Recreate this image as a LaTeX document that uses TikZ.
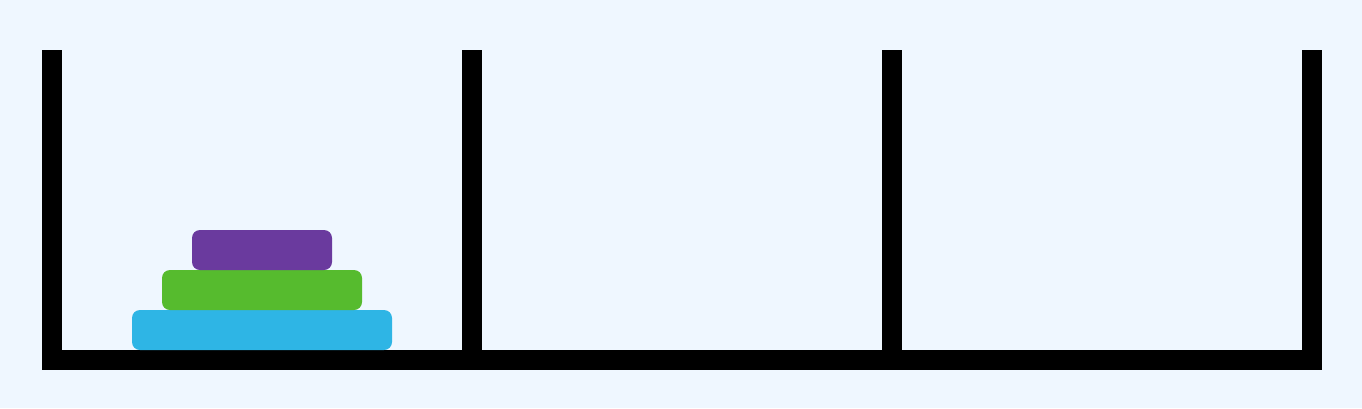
\documentclass[tikz,border=0pt]{standalone}
\definecolor{bg}{HTML}{EFF7FF}
\definecolor{diskpurple}{HTML}{6A3A9E}
\definecolor{diskgreen}{HTML}{56BB2E}
\definecolor{diskblue}{HTML}{2EB5E5}
\begin{document}
\begin{tikzpicture}[x=1pt,y=-1pt,
  bar/.style={fill=black,draw=none},
  disk/.style={draw=none,rounded corners=8pt}]
\fill[bg] (0,0) rectangle (1362,408);
\useasboundingbox (0,0) rectangle (1362,408);
% base
\path[bar] (42,350) rectangle (1322,370);
% posts
\foreach \x in {42,462,882,1302}
  \path[bar] (\x,50) rectangle (\x+20,370);
% disks
\path[disk,fill=diskblue] (132,310) rectangle (392,350);
\path[disk,fill=diskgreen] (162,270) rectangle (362,310);
\path[disk,fill=diskpurple] (192,230) rectangle (332,270);
\end{tikzpicture}
\end{document}
